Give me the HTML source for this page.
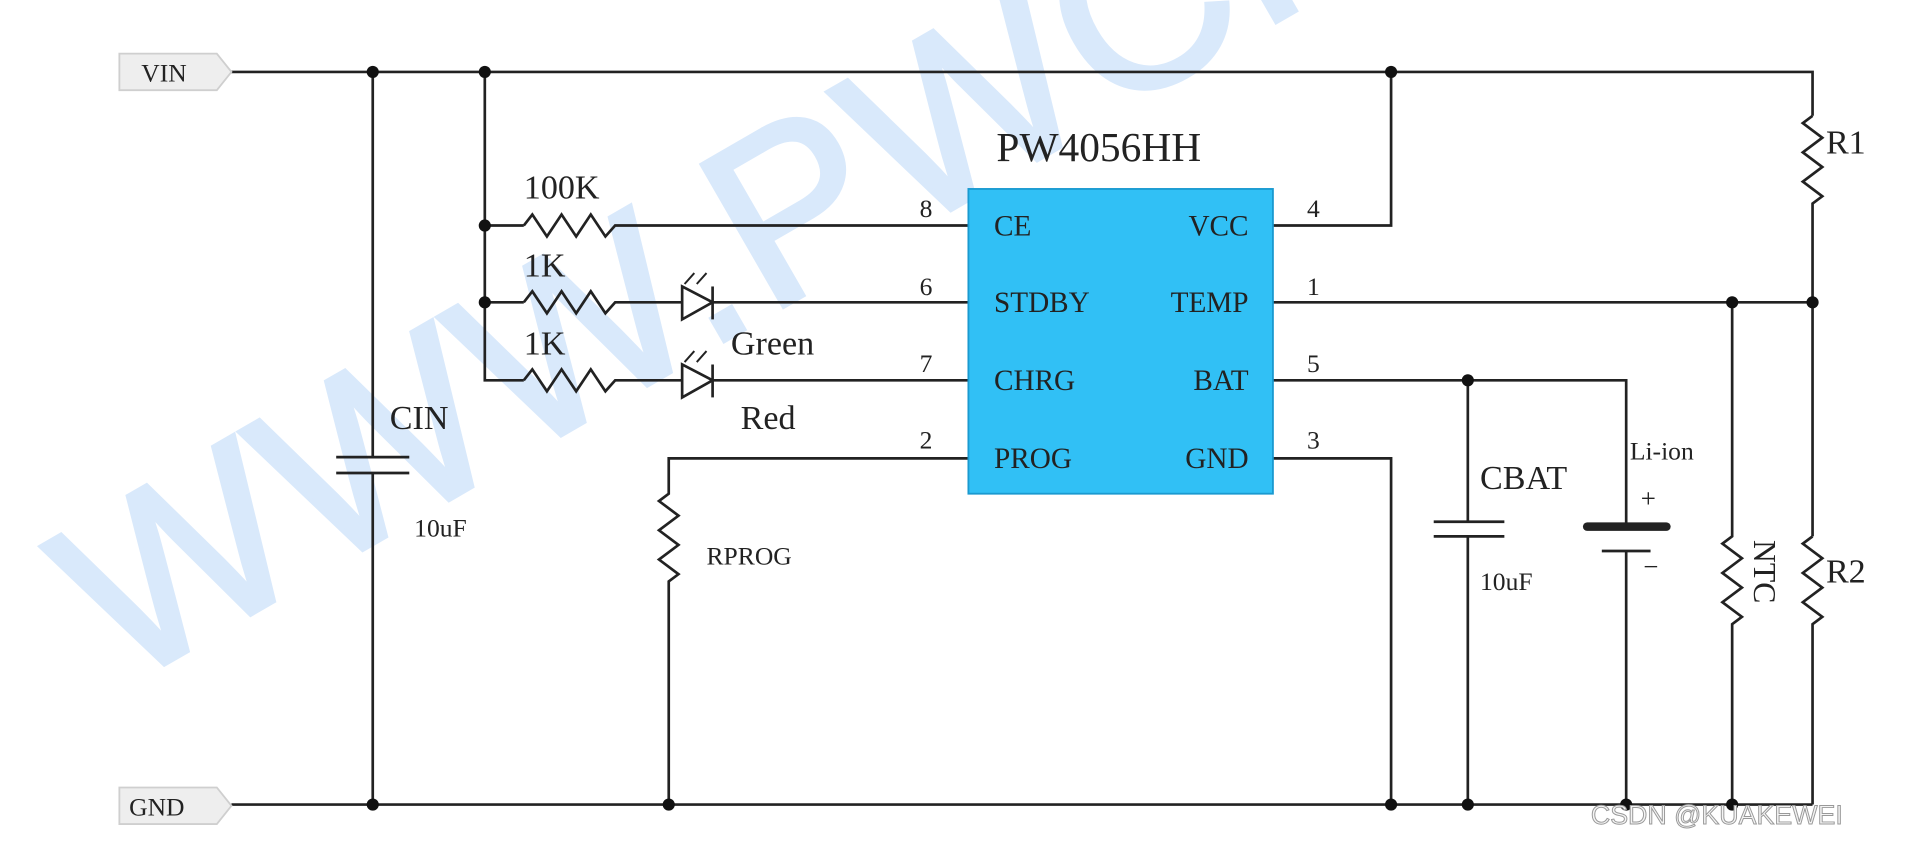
<!DOCTYPE html>
<html><head><meta charset="utf-8"><style>
html,body{margin:0;padding:0;background:#fff;}
svg{display:block;}
text{font-family:"Liberation Serif",serif;fill:#222;}
</style></head><body>
<svg width="1910" height="846" viewBox="0 0 1568 694" preserveAspectRatio="none" xmlns="http://www.w3.org/2000/svg">
<text x="100" y="565" transform="rotate(-30 100 565)" style="font-family:'Liberation Sans',sans-serif;font-size:195px;fill:#d9e9fb;stroke:#d9e9fb;stroke-width:4;letter-spacing:4px;">WWW.PWCHIP</text>

<g stroke="#222" stroke-width="2.2" fill="none">
<polyline points="190,59 1488,59 1488,95"/>
<polyline points="1488,95 1480,101 1496,113 1480,125 1496,137 1480,149 1496,161 1488,167 1488,440"/>
<polyline points="1488,440 1480,446 1496,458 1480,470 1496,482 1480,494 1496,506 1488,512 1488,660"/>
<line x1="190" y1="660" x2="1488" y2="660"/>
<line x1="306" y1="59" x2="306" y2="375"/>
<line x1="306" y1="388" x2="306" y2="660"/>
<line x1="276" y1="375" x2="336" y2="375"/>
<line x1="276" y1="388" x2="336" y2="388"/>
<polyline points="398,59 398,312 430,312"/>
<line x1="398" y1="185" x2="430" y2="185"/>
<line x1="398" y1="248" x2="430" y2="248"/>
<polyline points="430,185 437,176 449,194 461,176 473,194 485,176 497,194 505,185 795,185"/>
<polyline points="430,248 437,239 449,257 461,239 473,257 485,239 497,257 505,248 560,248"/>
<polyline points="430,312 437,303 449,321 461,303 473,321 485,303 497,321 505,312 560,312"/>
<polygon points="560,235 585,248 560,262"/>
<line x1="585" y1="235" x2="585" y2="262"/>
<line x1="585" y1="248" x2="795" y2="248"/>
<polygon points="560,299 585,312 560,326"/>
<line x1="585" y1="299" x2="585" y2="326"/>
<line x1="585" y1="312" x2="795" y2="312"/>
<g stroke-width="1.6">
<line x1="562" y1="233" x2="570" y2="224"/><line x1="572" y1="233" x2="580" y2="224"/>
<line x1="562" y1="297" x2="570" y2="288"/><line x1="572" y1="297" x2="580" y2="288"/>
</g>
<polyline points="795,376 549,376 549,405 541,411 557,423 541,435 557,447 541,459 557,471 549,477 549,660"/>
<polyline points="1045,185 1142,185 1142,59"/>
<polyline points="1045,376 1142,376 1142,660"/>
<line x1="1045" y1="248" x2="1488" y2="248"/>
<polyline points="1422,248 1422,440 1414,446 1430,458 1414,470 1430,482 1414,494 1430,506 1422,512 1422,660"/>
<polyline points="1045,312 1335,312 1335,432"/>
<line x1="1205" y1="312" x2="1205" y2="428"/>
<line x1="1205" y1="440" x2="1205" y2="660"/>
<line x1="1177" y1="428" x2="1235" y2="428"/>
<line x1="1177" y1="440" x2="1235" y2="440"/>
<line x1="1303" y1="432" x2="1368" y2="432" stroke-width="7" stroke-linecap="round"/>
<line x1="1315" y1="452" x2="1355" y2="452"/>
<line x1="1335" y1="452" x2="1335" y2="660"/>
</g>
<g fill="#111">
<circle cx="306" cy="59" r="5"/><circle cx="398" cy="59" r="5"/><circle cx="1142" cy="59" r="5"/>
<circle cx="398" cy="185" r="5"/><circle cx="398" cy="248" r="5"/>
<circle cx="1422" cy="248" r="5"/><circle cx="1488" cy="248" r="5"/>
<circle cx="1205" cy="312" r="5"/>
<circle cx="306" cy="660" r="5"/><circle cx="549" cy="660" r="5"/><circle cx="1142" cy="660" r="5"/>
<circle cx="1205" cy="660" r="5"/><circle cx="1335" cy="660" r="5"/><circle cx="1422" cy="660" r="5"/>
</g>
<polygon points="98,44 178,44 190,59 178,74 98,74" fill="#eeeeee" stroke="#cfcfcf" stroke-width="1.5"/>
<text x="116" y="67" font-size="21">VIN</text>
<polygon points="98,646 178,646 190,661 178,676 98,676" fill="#eeeeee" stroke="#cfcfcf" stroke-width="1.5"/>
<text x="106" y="669" font-size="21">GND</text>
<rect x="795" y="155" width="250" height="250" fill="#31c0f5" stroke="#1a9ad0" stroke-width="1.5"/>
<text x="818" y="132" font-size="34">PW4056HH</text>
<g font-size="24">
<text x="816" y="193">CE</text><text x="816" y="256">STDBY</text><text x="816" y="320">CHRG</text><text x="816" y="384">PROG</text>
<text x="1025" y="193" text-anchor="end">VCC</text><text x="1025" y="256" text-anchor="end">TEMP</text><text x="1025" y="320" text-anchor="end">BAT</text><text x="1025" y="384" text-anchor="end">GND</text>
</g>
<g font-size="21">
<text x="755" y="178">8</text><text x="755" y="242">6</text><text x="755" y="305">7</text><text x="755" y="368">2</text>
<text x="1073" y="178">4</text><text x="1073" y="242">1</text><text x="1073" y="305">5</text><text x="1073" y="368">3</text>
</g>
<g font-size="28">
<text x="430" y="163">100K</text><text x="430" y="227">1K</text><text x="430" y="291">1K</text>
<text x="600" y="291">Green</text><text x="608" y="352">Red</text>
<text x="320" y="352">CIN</text><text x="1215" y="401">CBAT</text>
<text x="1499" y="126">R1</text><text x="1499" y="478">R2</text>
</g>
<g font-size="21">
<text x="340" y="440">10uF</text><text x="1215" y="484">10uF</text><text x="580" y="463">RPROG</text>
<text x="1338" y="377">Li-ion</text>
</g>
<text x="1347" y="416" font-size="22">+</text>
<text x="1349" y="472" font-size="22">−</text>
<text x="1440" y="443" font-size="26" transform="rotate(90 1440 443)">NTC</text>
<text x="1306" y="676" style="font-family:'Liberation Sans',sans-serif;font-size:22px;fill:#f4f4f4;stroke:#999;stroke-width:0.8;">CSDN @KUAKEWEI</text>
</svg>
</body></html>
